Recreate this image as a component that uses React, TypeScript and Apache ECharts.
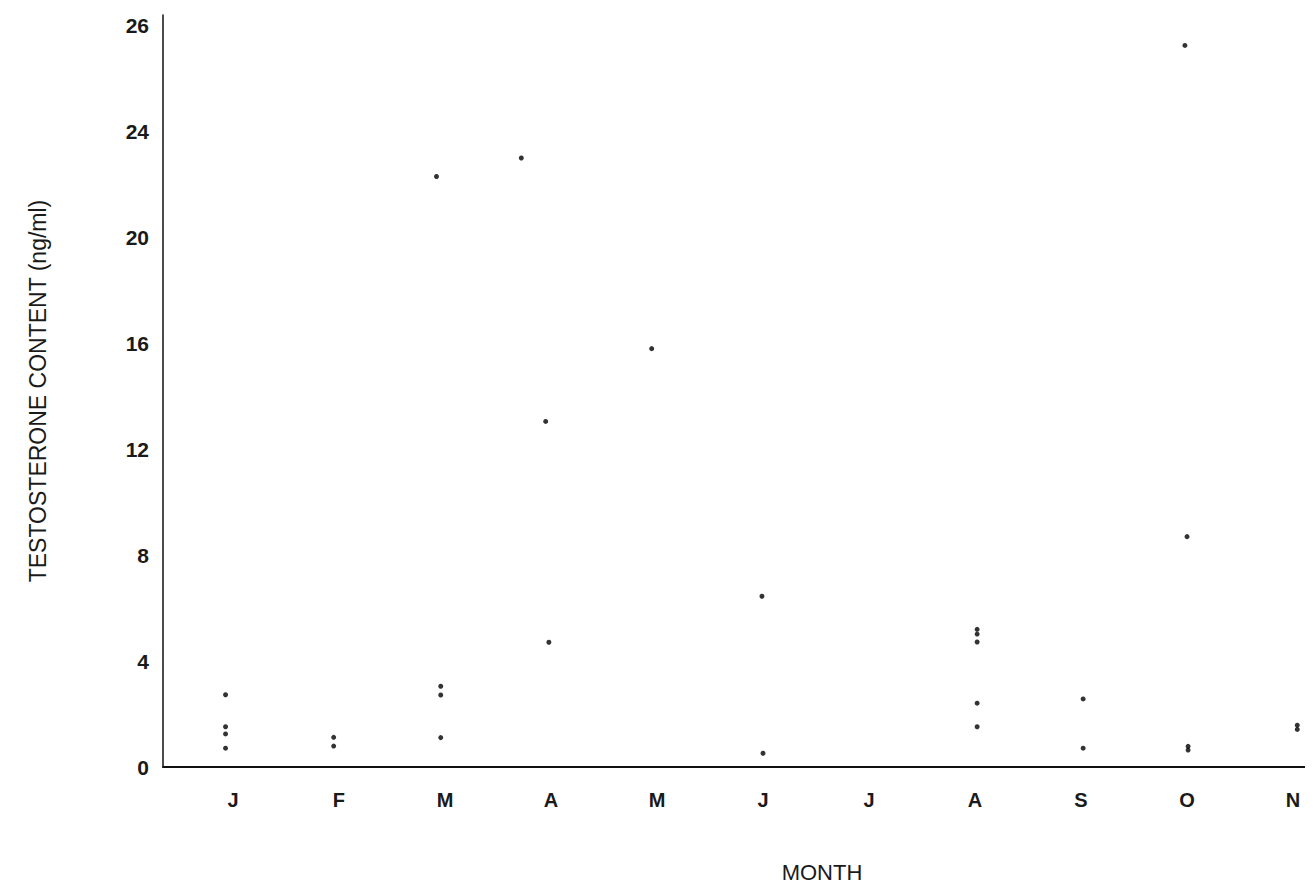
import React, { useEffect, useRef } from "react";
import * as echarts from "echarts";

// Month positions (1 = January ... 11 = November)
const monthLabels = ["J", "F", "M", "A", "M", "J", "J", "A", "S", "O", "N"];
const monthTicks = [1, 2, 3, 4, 5, 6, 7, 8, 9, 10, 11];

// Y tick values and the labels printed on the original figure
const yTickValues = [0, 4, 8, 12, 16, 20, 24, 28];
const yTickLabels = ["0", "4", "8", "12", "16", "20", "24", "26"];

// Individual testosterone measurements (ng/ml) per month (x is the month position as plotted)
const janX = [0.93, 0.93, 0.93, 0.93];
const janY = [2.73, 1.52, 1.25, 0.71];
const febX = [1.95, 1.95];
const febY = [1.12, 0.79];
const marX = [2.92, 2.96, 2.96, 2.96];
const marY = [22.3, 3.05, 2.72, 1.11];
const aprX = [3.72, 3.95, 3.98];
const aprY = [23.0, 13.05, 4.71];
const mayX = [4.95];
const mayY = [15.8];
const junX = [5.99, 6.0];
const junY = [6.45, 0.52];
const augX = [8.02, 8.02, 8.02, 8.02, 8.02];
const augY = [5.2, 5.02, 4.72, 2.41, 1.52];
const sepX = [9.02, 9.02];
const sepY = [2.57, 0.71];
const octX = [9.98, 10.0, 10.01, 10.01];
const octY = [27.25, 8.7, 0.78, 0.64];
const novX = [11.04, 11.04];
const novY = [1.58, 1.42];

const xs = [janX, febX, marX, aprX, mayX, junX, augX, sepX, octX, novX];
const ys = [janY, febY, marY, aprY, mayY, junY, augY, sepY, octY, novY];

const points: number[][] = [];
xs.forEach((arr, i) => arr.forEach((x, j) => points.push([x, ys[i][j]])));

export default function App() {
  const ref = useRef<HTMLDivElement>(null);
  useEffect(() => {
    if (!ref.current) return;
    const chart = echarts.init(ref.current, null, { renderer: "svg" });
    const font = "'Liberation Sans', Arial, Helvetica, sans-serif";
    chart.setOption({
      animation: false,
      backgroundColor: "#ffffff",
      grid: { left: 163, right: 3, top: 15, bottom: 125, containLabel: false },
      xAxis: {
        type: "value",
        min: 0.34,
        max: 11.16,
        splitLine: { show: false },
        axisTick: { show: false },
        axisLine: { show: true, lineStyle: { color: "#111", width: 2 } },
        axisLabel: {
          customValues: monthTicks,
          formatter: (v: number) => monthLabels[Math.round(v) - 1] ?? "",
          color: "#1a1a1a",
          fontFamily: font,
          fontWeight: "bold",
          fontSize: 20,
          margin: 23,
        },
      },
      yAxis: {
        type: "value",
        min: 0,
        max: 28.4,
        splitLine: { show: false },
        axisTick: { show: false },
        axisLine: { show: true, lineStyle: { color: "#111", width: 1.5 } },
        axisLabel: {
          customValues: yTickValues,
          formatter: (v: number) => {
            const i = yTickValues.indexOf(Math.round(v));
            return i >= 0 ? yTickLabels[i] : "";
          },
          color: "#1a1a1a",
          fontFamily: font,
          fontWeight: "bold",
          fontSize: 21,
          margin: 14,
        },
        name: "TESTOSTERONE CONTENT (ng/ml)",
        nameLocation: "middle",
        nameGap: 114,
        nameRotate: 90,
        nameTextStyle: {
          color: "#1a1a1a",
          fontFamily: font,
          fontSize: 23,
        },
      },
      graphic: [
        {
          type: "text",
          x: 822,
          y: 872,
          style: {
            text: "MONTH",
            fill: "#1a1a1a",
            font: `22px ${font}`,
            textAlign: "center",
            textVerticalAlign: "middle",
          },
        },
      ],
      series: [
        {
          type: "scatter",
          data: points,
          symbol: "circle",
          symbolSize: 5,
          itemStyle: { color: "#000000" },
        },
      ],
    });
    return () => chart.dispose();
  }, []);
  return <div ref={ref} style={{ width: 1313, height: 892, margin: -8 }} />;
}
